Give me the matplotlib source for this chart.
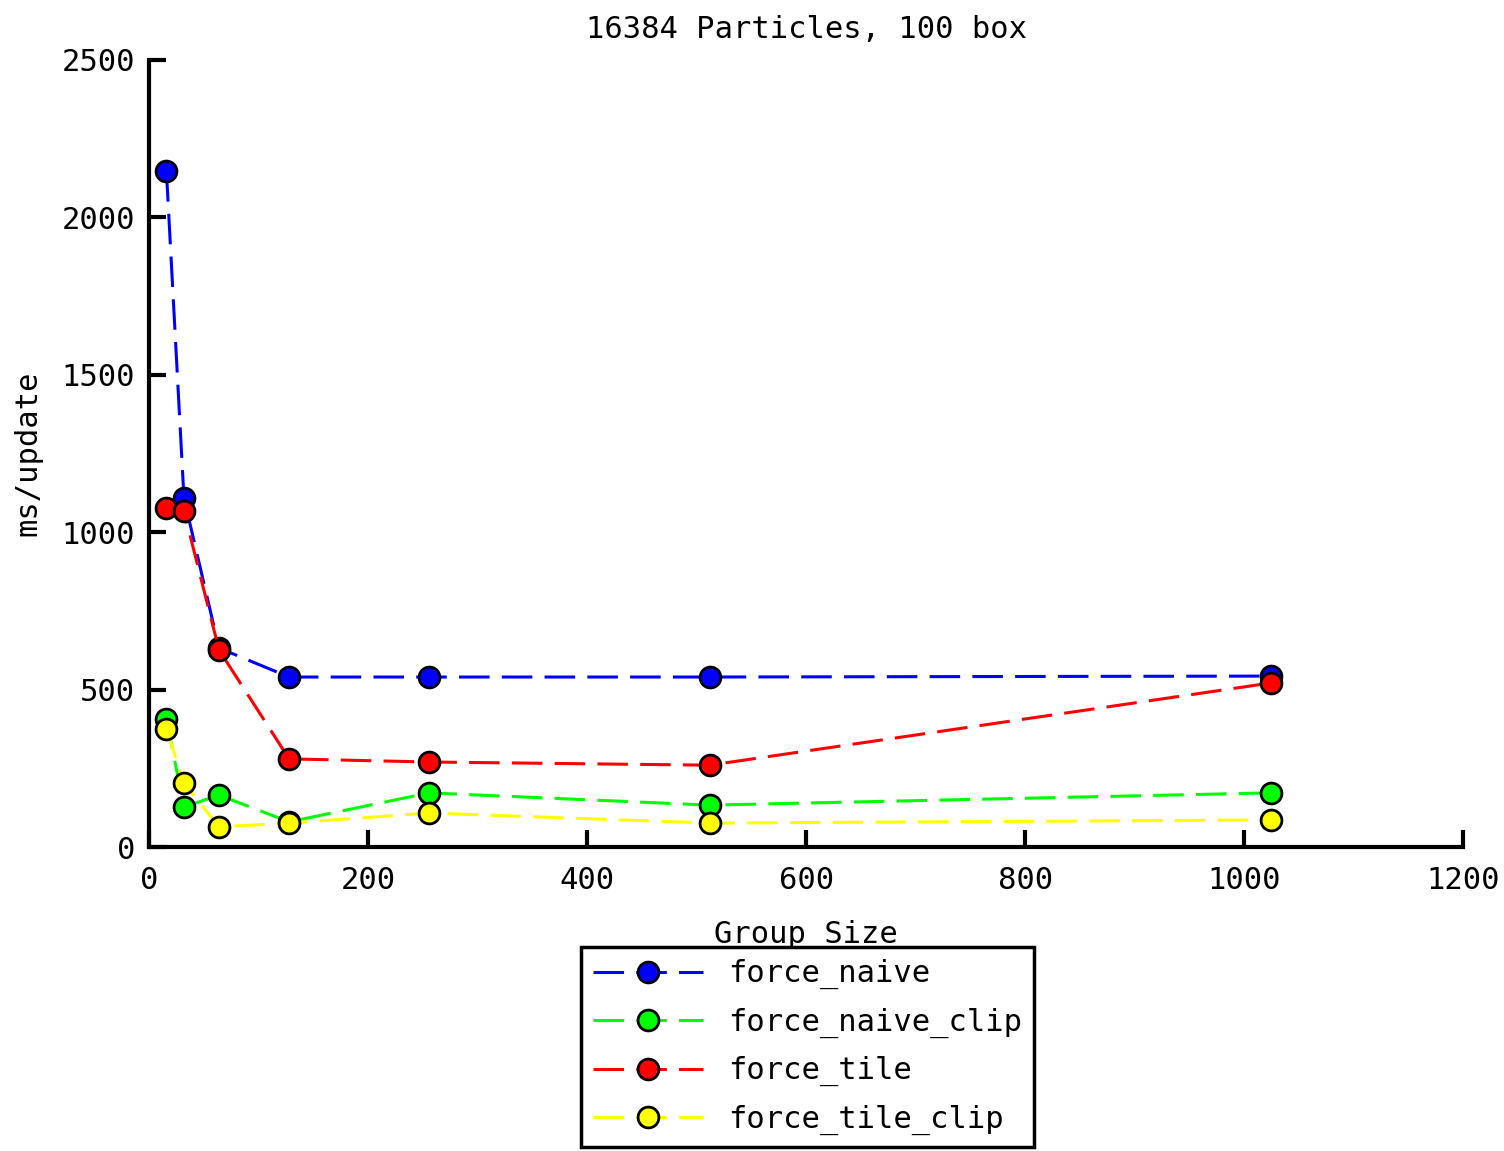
import numpy as np
import matplotlib.pyplot as plt

plt.rcParams['font.family'] = ['DejaVu Sans Mono']

group_size = [16, 32, 64, 128, 256, 512, 1024]
force_naive = [2147, 1109, 632, 540, 540, 540, 543]
force_naive_clip = [407, 127, 165, 80, 172, 133, 172]
force_tile = [1077, 1067, 626, 280, 270, 260, 521]
force_tile_clip = [375, 203, 64, 76, 108, 76, 86]

series = [
    ("force_naive", force_naive, "#0000ff"),
    ("force_naive_clip", force_naive_clip, "#00ff00"),
    ("force_tile", force_tile, "#ff0000"),
    ("force_tile_clip", force_tile_clip, "#ffff00"),
]

fig = plt.figure(figsize=(15.04, 11.51), dpi=100)
ax = fig.add_axes([0.099, 0.2641, 0.874, 0.6838])

for name, vals, col in series:
    ax.plot(group_size, vals, color=col, lw=2.2, dashes=(10, 4),
            marker='o', ms=15, mfc=col, mec='black', mew=2, label=name)

ax.set_xlim(0, 1200)
ax.set_ylim(0, 2500)
ax.set_xticks(np.arange(0, 1201, 200))
ax.set_yticks(np.arange(0, 2501, 500))
ax.spines['top'].set_visible(False)
ax.spines['right'].set_visible(False)
for s in ['left', 'bottom']:
    ax.spines[s].set_linewidth(3)
ax.tick_params(direction='in', length=12, width=3, labelsize=22)
ax.tick_params(axis='x', pad=14)
ax.tick_params(axis='y', pad=10)

ax.set_title("16384 Particles, 100 box", fontsize=22, pad=16)
ax.set_xlabel("Group Size", fontsize=22, labelpad=18)
ax.set_ylabel("ms/update", fontsize=22, labelpad=14)

leg = fig.legend(loc='upper center', bbox_to_anchor=(0.537, 0.1772),
                 bbox_transform=fig.transFigure, fontsize=22, frameon=True,
                 fancybox=False, edgecolor='black', handlelength=3.6,
                 borderpad=0.4, labelspacing=0.6, borderaxespad=0,
                 framealpha=1)
leg.get_frame().set_linewidth(2.5)

fig.savefig("out.png", dpi=100)
